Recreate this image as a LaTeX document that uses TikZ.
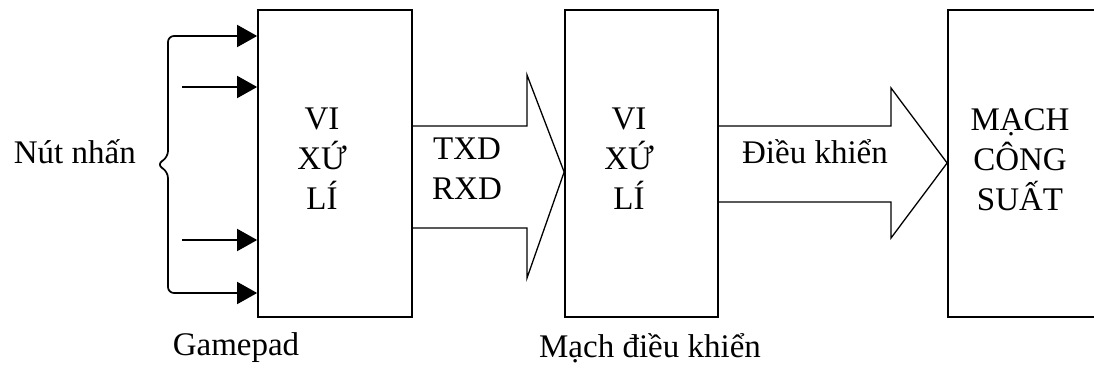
\documentclass[tikz,border=0pt]{standalone}
\usepackage{fontspec}
\setmainfont{Liberation Serif}
\usetikzlibrary{arrows.meta}

\tikzset{
    blk/.style={draw, line width=1.7pt, inner sep=0pt},
    txt/.style={font=\fontsize{33}{40}\selectfont, inner sep=0pt, align=center},
    pin/.style={line width=1.7pt, -{Triangle[length=20pt,width=22pt]}},
    bigarrow/.style={line width=1.3pt, line join=miter}
}

\begin{document}
\begin{tikzpicture}[x=1pt,y=-1pt]
    \clip (0,0) rectangle (1094,367);
    % khoi
    \node[blk, minimum width=154pt, minimum height=307pt] (gp) at (335,163.5) {};
    \node[blk, minimum width=153pt, minimum height=307pt] (mdk) at (641.5,163.5) {};
    \node[blk, minimum width=170pt, minimum height=307pt] (mcs) at (1033,163.5) {};
    \node[txt, anchor=north] (gptxt) at (322,108) {VI\\XỨ\\LÍ};
    \node[txt, anchor=north] (mdktxt) at (629,108) {VI\\XỨ\\LÍ};
    \node[txt, anchor=north] (mcstxt) at (1020,108) {MẠCH\\CÔNG\\SUẤT};
    \node[txt, anchor=base] (gpname) at (236,355) {Gamepad};
    \node[txt, anchor=base] (mdkname) at (650,357) {Mạch điều khiển};
    % nut nhan
    \foreach \y/\x in {36/180, 87/182, 240/182, 293/180} {
        \coordinate (in\y) at (\x,\y);
        \draw[pin] (in\y) -- (gp.west |- in\y);
    }
    \draw[line width=1.7pt, rounded corners=6pt] (in36) -- (168,36) -- (168,157) -- (157,164.5) -- (168,172) -- (168,293) -- (in293);
    \node[txt, anchor=base east] (nut) at (136,163) {Nút nhấn};
    % mui ten lon
    \draw[bigarrow] (gp.east |- 0,126) -- (527,126) -- (527,75) -- (mdk.west |- 0,172)
        -- (527,278) -- (527,228) -- (gp.east |- 0,228);
    \node[txt, anchor=north] (txrx) at (467,138) {TXD\\RXD};
    \draw[bigarrow] (mdk.east |- 0,126) -- (891,126) -- (891,88) -- (mcs.west |- 0,163)
        -- (891,238) -- (891,202) -- (mdk.east |- 0,202);
    \node[txt, anchor=base] (dk) at (815,163) {Điều khiển};
\end{tikzpicture}
\end{document}
